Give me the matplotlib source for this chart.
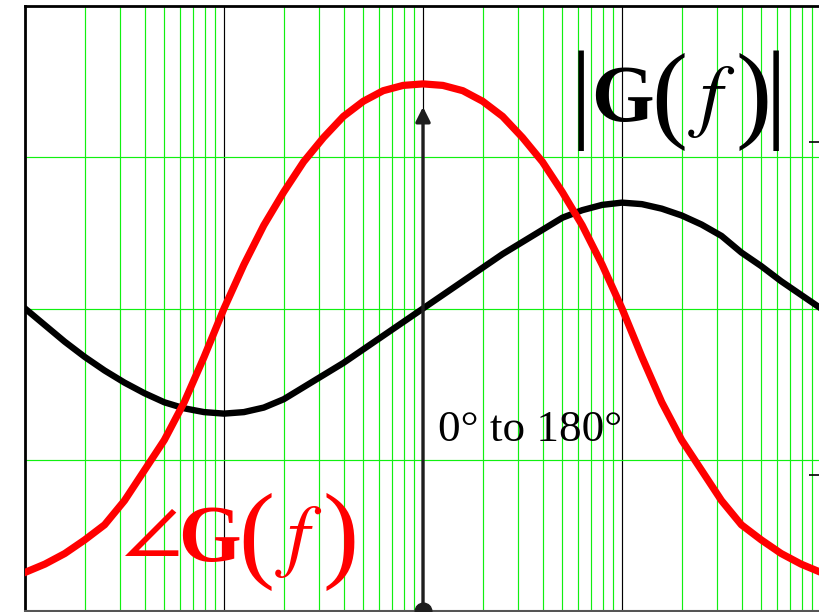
import numpy as np
import matplotlib
matplotlib.use("Agg")
import matplotlib.pyplot as plt
from matplotlib.ticker import LogLocator, NullFormatter
from matplotlib.transforms import IdentityTransform

plt.rcParams['mathtext.fontset'] = 'stix'
plt.rcParams['font.family'] = ['Liberation Serif', 'DejaVu Serif']

# frequency samples, 10 per decade, 1 Hz .. 10 kHz
freq = np.logspace(0, 4, 41)

# magnitude curve (black)
mag = [0.00, -0.11, -0.22, -0.32, -0.41, -0.49, -0.56, -0.62, -0.66, -0.685,
       -0.695, -0.685, -0.655, -0.60, -0.52, -0.44, -0.36, -0.27, -0.18, -0.09,
       0.00, 0.09, 0.18, 0.27, 0.36, 0.44, 0.52, 0.60, 0.65, 0.685,
       0.70, 0.69, 0.66, 0.615, 0.555, 0.48, 0.37, 0.28, 0.18, 0.09, 0.00]

# phase curve (red)
phase = [-1.745, -1.69, -1.62, -1.53, -1.43, -1.27, -1.07, -0.87, -0.62, -0.32,
         0.00, 0.29, 0.55, 0.77, 0.97, 1.13, 1.27, 1.37, 1.44, 1.475,
         1.485, 1.475, 1.44, 1.37, 1.27, 1.13, 0.97, 0.77, 0.55, 0.29,
         0.00, -0.32, -0.62, -0.87, -1.07, -1.27, -1.43, -1.53, -1.62, -1.69, -1.745]

arrow_f = 100
arrow_top = 1.333
right_ticks = [-1.1, 1.1]

W, H = 820, 612
fig = plt.figure(figsize=(W / 100, H / 100), dpi=100)
ax = fig.add_axes([25/W, 1/H, 796/W, 605/H])

ax.set_xscale('log')
ax.set_xlim(1, 1e4)
ax.set_ylim(-2, 2)

# grid: green minor verticals, black decade lines, green horizontals
ax.xaxis.set_minor_locator(LogLocator(base=10, subs=np.arange(2, 10)))
ax.xaxis.set_minor_formatter(NullFormatter())
ax.set_yticks([-1, 0, 1])
ax.grid(True, which='minor', axis='x', color='#11f011', lw=0.85)
ax.grid(True, which='major', axis='x', color='black', lw=0.85)
ax.grid(True, which='major', axis='y', color='#11f011', lw=0.85)

for s in ['left', 'top']:
    ax.spines[s].set_linewidth(2)
ax.spines['bottom'].set_color('#555555')
ax.spines['bottom'].set_linewidth(1.5)

ax.plot(freq, mag, color='black', lw=4.6, zorder=3)
ax.plot(freq, phase, color='#ff0000', lw=5.2, zorder=3)

ax.annotate('', xy=(arrow_f, arrow_top), xytext=(arrow_f, -2),
            arrowprops=dict(arrowstyle='-|>', lw=2.4, color='#1e1e1e',
                            mutation_scale=22, shrinkA=0, shrinkB=0), zorder=4)
ax.plot([arrow_f], [-2], 'o', color='#1e1e1e', ms=12, clip_on=False, zorder=5)

ax.text(119, -0.878, '0° to 180°', fontsize=32.5, ha='left', va='baseline')

tw = ax.twinx()
tw.set_ylim(-2, 2)
tw.set_yticks(right_ticks)
tw.tick_params(axis='y', direction='in', length=9, width=1.2, labelright=False)
for s in tw.spines.values():
    s.set_visible(False)
ax.tick_params(which='both', left=False, bottom=False, right=False, top=False,
               labelleft=False, labelbottom=False)


# big formula labels, glyph by glyph (pixel positions from the top-left corner)
def piece(x, y, s, size, color, **kw):
    fig.text(x, H - y, s, fontsize=size, color=color, ha='center', va='baseline',
             transform=IdentityTransform(), **kw)


def g_of_f(gx, base, color):
    piece(gx, base, 'G', 58, color, fontweight='bold')
    piece(gx + 47, base + 7, '(', 78, color)
    piece(gx + 90, base, r'$f$', 58, color)
    piece(gx + 132, base + 7, ')', 78, color)


g_of_f(622, 121, 'black')
piece(581, 128, '|', 80, 'black')
piece(776, 128, '|', 80, 'black')

g_of_f(209, 561, '#ff0000')
fig.text(151, H - 535, r'$\angle$', fontsize=62, color='#ff0000', ha='center',
         va='center', transform=IdentityTransform())

fig.savefig('out.png', dpi=100)
